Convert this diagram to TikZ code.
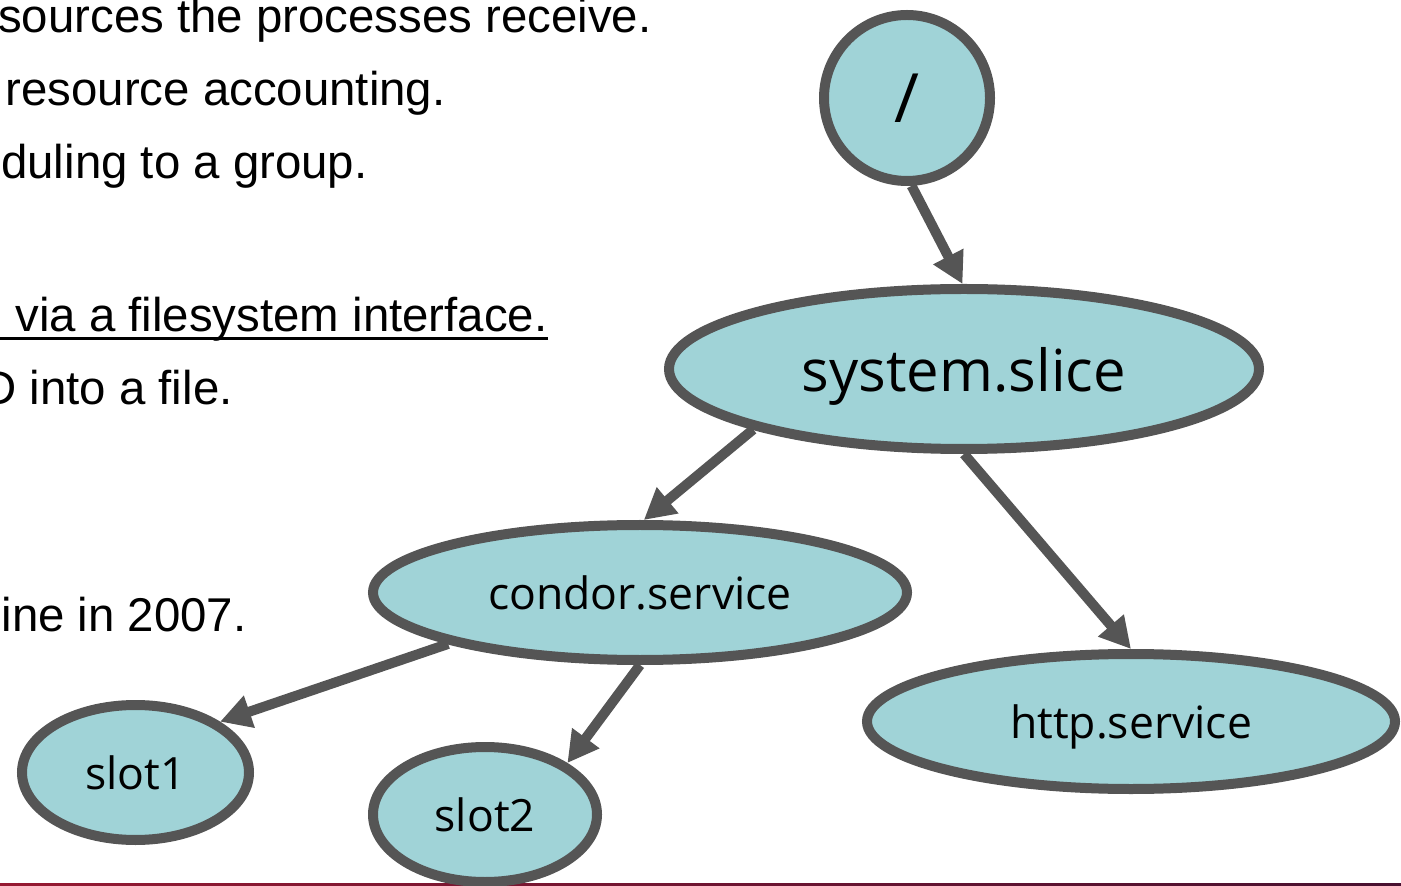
\documentclass[tikz,border=0pt]{standalone}
\usepackage{fontspec}
\setmainfont{Liberation Sans}
\newfontfamily\treefont{Open Sans}
\usepackage{tikz}
\usetikzlibrary{arrows.meta, shapes.geometric}

\definecolor{nodefill}{RGB}{160,211,215}
\definecolor{edgegray}{RGB}{85,85,85}
\definecolor{barleft}{RGB}{150,25,50}
\definecolor{barright}{RGB}{72,16,48}

\begin{document}
\begin{tikzpicture}[x=0.5pt, y=-0.5pt,
    cg/.style={ellipse, draw=edgegray, fill=nodefill, line width=5pt, inner sep=0pt,
        text depth=0pt, minimum height=67.5pt, font=\treefont\fontsize{22.25}{26}\selectfont},
    edge/.style={edgegray, line width=5pt, -{Triangle[length=15.5pt, width=16pt]}},
    body/.style={anchor=base east, inner sep=0pt, font=\fontsize{23.7}{28}\selectfont}]
            \useasboundingbox (0,0) rectangle (1401,886);
            \clip (0,0) rectangle (1401,886);

            % footer bar
            \shade[left color=barleft, right color=barright] (0,883) rectangle (1401,886);

            % slide text, cut at the left edge
            \node[body] at (652, 33)  (t1) {sources the processes receive.};
            \node[body] at (446, 106) (t2) {resource accounting.};
            \node[body] at (368, 179) (t3) {duling to a group.};
            \node[body] at (548, 332) (t4) {via a filesystem interface.};
            \node[body] at (233, 405) (t5) {D into a file.};
            \node[body] at (247, 632) (t6) {ine in 2007.};
            \draw[line width=1.5pt] ([yshift=-3.25pt]t4.base east) -- ++(-600,0);

            % cgroup tree
            \node[cg, circle, minimum size=83pt, font=\treefont\fontsize{34}{40}\selectfont] at (907, 98) (root) {/};
            \node[cg, minimum width=295pt, minimum height=80pt, font=\treefont\fontsize{29}{34}\selectfont] at (964, 369) (sys) {system.slice};
            \node[cg, minimum width=267pt] at (640, 592.5) (condor) {condor.service};
            \node[cg, minimum width=264pt] at (1131, 721.5) (http) {http.service};
            \node[cg, minimum width=113.5pt] at (135.5, 772.5) (slot1) {slot1};
            \node[cg, minimum width=112pt] at (485, 814.5) (slot2) {slot2};

            \draw [edge] (root.273) -- (sys.91);
            \draw [edge] (sys.196) -- (condor.87);
            \draw [edge] (sys.south) -- (http.north);
            \draw [edge] (condor.195) -- (slot1.31);
            \draw [edge] (condor.south) -- (slot2.32);

        \end{tikzpicture}
\end{document}
